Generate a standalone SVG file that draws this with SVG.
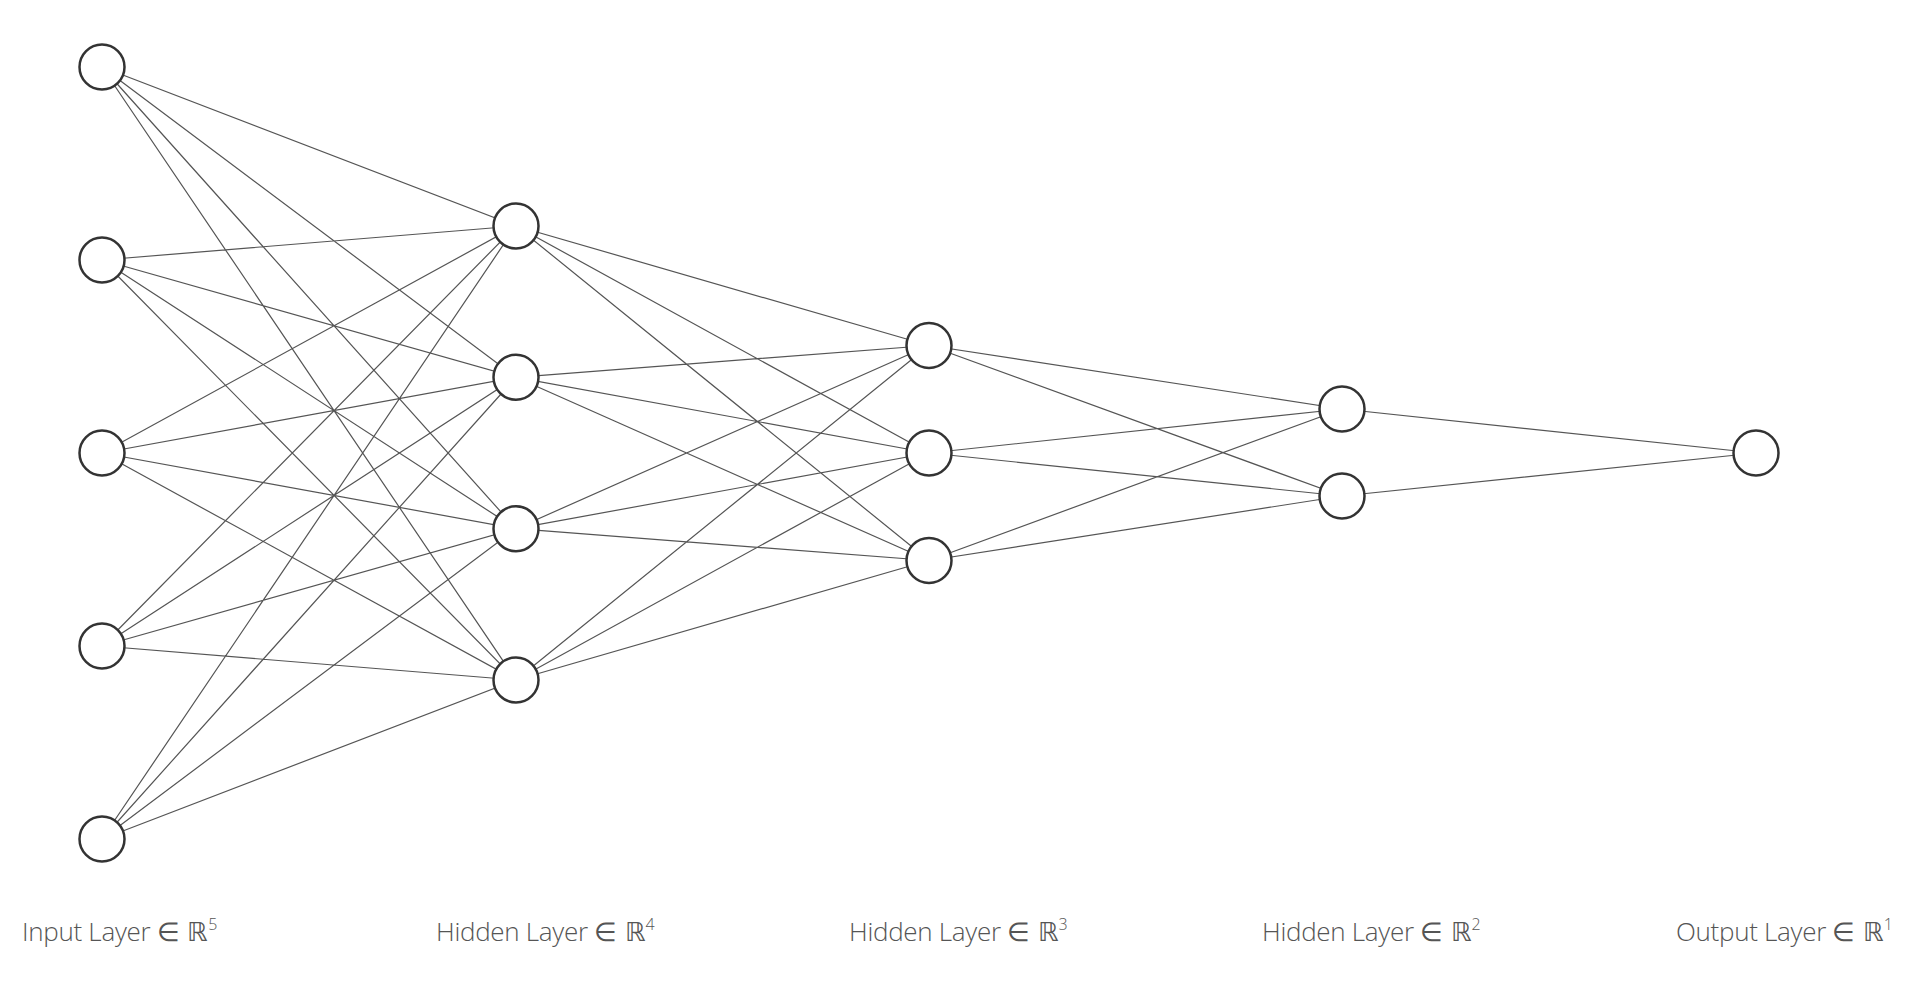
<svg xmlns="http://www.w3.org/2000/svg" width="1909" height="985" viewBox="0 0 1909 985">
<style>
.e{stroke:#555;stroke-width:1.2;fill:none}
.n{fill:#fff;stroke:#333;stroke-width:2.5}
.l{font-family:"Open Sans","DejaVu Sans",sans-serif;font-weight:300;font-size:26px;fill:#555;letter-spacing:-0.3px}
.m{font-family:"DejaVu Sans",sans-serif;font-weight:200}
.s{font-size:16px}
</style>
<rect width="1909" height="985" fill="#fff"/>
<g id="connectors">
<path class="e" d="M102 67L516 226M102 67L516 377.3M102 67L516 528.7M102 67L516 680M102 260L516 226M102 260L516 377.3M102 260L516 528.7M102 260L516 680M102 453L516 226M102 453L516 377.3M102 453L516 528.7M102 453L516 680M102 646L516 226M102 646L516 377.3M102 646L516 528.7M102 646L516 680M102 839L516 226M102 839L516 377.3M102 839L516 528.7M102 839L516 680"/>
<path class="e" d="M516 226L929 345.5M516 226L929 453M516 226L929 560.5M516 377.3L929 345.5M516 377.3L929 453M516 377.3L929 560.5M516 528.7L929 345.5M516 528.7L929 453M516 528.7L929 560.5M516 680L929 345.5M516 680L929 453M516 680L929 560.5"/>
<path class="e" d="M929 345.5L1342 409M929 345.5L1342 496M929 453L1342 409M929 453L1342 496M929 560.5L1342 409M929 560.5L1342 496"/>
<path class="e" d="M1342 409L1756 453M1342 496L1756 453"/>
</g>
<g id="input-layer">
<circle class="n" cx="102" cy="67" r="22.5"/>
<circle class="n" cx="102" cy="260" r="22.5"/>
<circle class="n" cx="102" cy="453" r="22.5"/>
<circle class="n" cx="102" cy="646" r="22.5"/>
<circle class="n" cx="102" cy="839" r="22.5"/>
<text class="l" x="22" y="941">Input Layer <tspan class="m">∈ ℝ</tspan><tspan class="s" dy="-11">5</tspan></text>
</g>
<g id="hidden-layer-1">
<circle class="n" cx="516" cy="226" r="22.5"/>
<circle class="n" cx="516" cy="377.3" r="22.5"/>
<circle class="n" cx="516" cy="528.7" r="22.5"/>
<circle class="n" cx="516" cy="680" r="22.5"/>
<text class="l" x="436" y="941">Hidden Layer <tspan class="m">∈ ℝ</tspan><tspan class="s" dy="-11">4</tspan></text>
</g>
<g id="hidden-layer-2">
<circle class="n" cx="929" cy="345.5" r="22.5"/>
<circle class="n" cx="929" cy="453" r="22.5"/>
<circle class="n" cx="929" cy="560.5" r="22.5"/>
<text class="l" x="849" y="941">Hidden Layer <tspan class="m">∈ ℝ</tspan><tspan class="s" dy="-11">3</tspan></text>
</g>
<g id="hidden-layer-3">
<circle class="n" cx="1342" cy="409" r="22.5"/>
<circle class="n" cx="1342" cy="496" r="22.5"/>
<text class="l" x="1262" y="941">Hidden Layer <tspan class="m">∈ ℝ</tspan><tspan class="s" dy="-11">2</tspan></text>
</g>
<g id="output-layer">
<circle class="n" cx="1756" cy="453" r="22.5"/>
<text class="l" x="1676" y="941">Output Layer <tspan class="m">∈ ℝ</tspan><tspan class="s" dy="-11">1</tspan></text>
</g>
</svg>
